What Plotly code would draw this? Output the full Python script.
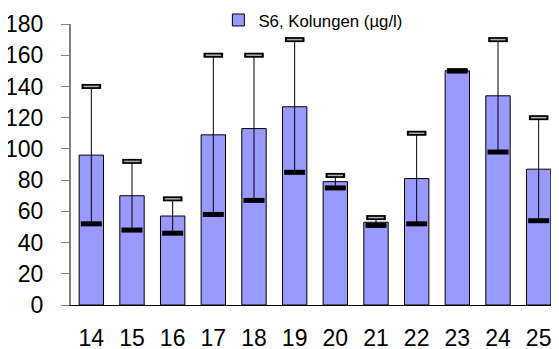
import plotly.graph_objects as go

categories = ["14", "15", "16", "17", "18", "19", "20", "21", "22", "23", "24", "25"]
values = [96, 70, 57, 109, 113, 127, 79, 53, 81, 150, 134, 87]
upper = [140, 92, 68, 160, 160, 170, 83, 56, 110, 150, 170, 120]
lower = [52, 48, 46, 58, 67, 85, 75, 51, 52, 150, 98, 54]

err_plus = [u - v for u, v in zip(upper, values)]
err_minus = [v - l for v, l in zip(values, lower)]

fig = go.Figure()
fig.add_trace(go.Bar(
    x=categories, y=values, name="S6, Kolungen (µg/l)",
    marker=dict(color="#9999ff", line=dict(color="#000000", width=1)),
    error_y=dict(type="data", array=err_plus, arrayminus=err_minus,
                 thickness=1, width=0, color="#000000"),
))
# thick caps: upper as outlined bar, lower as solid bar
fig.add_trace(go.Scatter(
    x=categories, y=upper, mode="markers", showlegend=False, hoverinfo="skip",
    marker=dict(symbol="line-ew", size=14, line=dict(color="#000000", width=5)),
))
fig.add_trace(go.Scatter(
    x=categories, y=upper, mode="markers", showlegend=False, hoverinfo="skip",
    marker=dict(symbol="line-ew", size=11, line=dict(color="#b0b0b0", width=1.5)),
))
fig.add_trace(go.Scatter(
    x=categories, y=lower, mode="markers", showlegend=False, hoverinfo="skip",
    marker=dict(symbol="line-ew", size=15, line=dict(color="#000000", width=5)),
))

# page body has an 8px default margin, so the figure is sized to fit inside it
fig.update_layout(
    width=551, height=341,
    margin=dict(l=63, r=0, t=16, b=44, autoexpand=False),
    paper_bgcolor="white", plot_bgcolor="white",
    font=dict(family="Liberation Sans, Arial, sans-serif", color="#000000"),
    bargap=0.4,
    showlegend=True,
    legend=dict(x=0.302, xanchor="left", y=1.014, yanchor="middle", itemwidth=30,
                font=dict(size=16.8), bgcolor="rgba(0,0,0,0)"),
)
fig.update_yaxes(range=[0, 180], dtick=20, showgrid=False, zeroline=False,
                 showline=True, linecolor="#808080", linewidth=2,
                 ticks="outside", ticklen=8, tickcolor="#808080",
                 tickfont=dict(size=23), ticklabelstandoff=13, automargin=False)
fig.update_xaxes(range=[-0.5, 11.5], showgrid=False, showline=True,
                 linecolor="#000000", linewidth=1,
                 ticks="", tickfont=dict(size=23), ticklabelstandoff=12, automargin=False)

fig.write_html("out.html")
